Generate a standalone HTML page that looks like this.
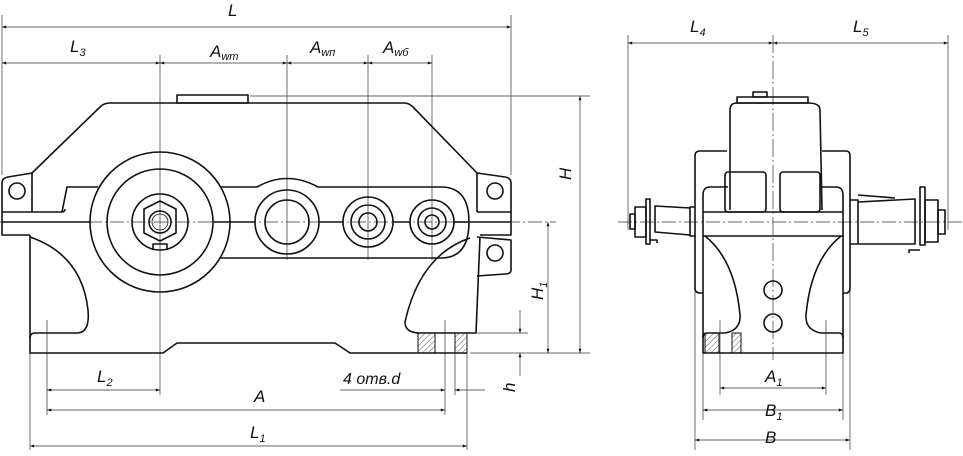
<!DOCTYPE html>
<html><head><meta charset="utf-8"><style>
body{margin:0;background:#fff}
svg{display:block}
text{font-family:"Liberation Sans",sans-serif;font-style:italic;font-size:17px;fill:#111}
.s{font-size:11px}
</style></head><body>
<svg width="963" height="456" viewBox="0 0 963 456" xmlns="http://www.w3.org/2000/svg">
<defs>
<marker id="a" viewBox="0 0 10 10" refX="10" refY="5" markerWidth="9" markerHeight="6" orient="auto-start-reverse"><path d="M0,1.5L10,5L0,8.5z" fill="#111"/></marker>
<pattern id="h" width="4" height="4" patternUnits="userSpaceOnUse" patternTransform="rotate(45)"><line x1="0" y1="0" x2="0" y2="4" stroke="#333" stroke-width="0.8"/></pattern>
</defs>
<g stroke="#333" stroke-width="0.7" fill="none">
<line x1="2" y1="15" x2="2" y2="175"/><line x1="511" y1="15" x2="511" y2="175"/>
<line x1="160" y1="55" x2="160" y2="395"/><line x1="287" y1="55" x2="287" y2="260"/>
<line x1="368" y1="55" x2="368" y2="260"/><line x1="432" y1="55" x2="432" y2="260"/>
<line x1="0" y1="222" x2="556" y2="222" stroke-dasharray="14 3 2 3"/>
<line x1="250" y1="96" x2="590" y2="96"/><line x1="470" y1="333" x2="528" y2="333"/><line x1="470" y1="353" x2="590" y2="353"/>
<line x1="30" y1="353" x2="30" y2="450"/><line x1="467" y1="353" x2="467" y2="450"/>
<line x1="47" y1="320" x2="47" y2="415"/><line x1="445" y1="320" x2="445" y2="415"/><line x1="455" y1="353" x2="455" y2="395"/>
<line x1="2" y1="27" x2="511" y2="27" marker-start="url(#a)" marker-end="url(#a)"/>
<line x1="2" y1="63" x2="160" y2="63" marker-start="url(#a)" marker-end="url(#a)"/>
<line x1="160" y1="63" x2="287" y2="63" marker-start="url(#a)" marker-end="url(#a)"/>
<line x1="287" y1="63" x2="368" y2="63" marker-start="url(#a)" marker-end="url(#a)"/>
<line x1="368" y1="63" x2="432" y2="63" marker-start="url(#a)" marker-end="url(#a)"/>
<line x1="580" y1="96" x2="580" y2="353" marker-start="url(#a)" marker-end="url(#a)"/>
<line x1="548" y1="222" x2="548" y2="353" marker-start="url(#a)" marker-end="url(#a)"/>
<line x1="520" y1="310" x2="520" y2="333" marker-end="url(#a)"/><line x1="520" y1="376" x2="520" y2="353" marker-end="url(#a)"/>
<line x1="47" y1="390" x2="160" y2="390" marker-start="url(#a)" marker-end="url(#a)"/>
<line x1="47" y1="410" x2="445" y2="410" marker-start="url(#a)" marker-end="url(#a)"/>
<line x1="30" y1="446" x2="467" y2="446" marker-start="url(#a)" marker-end="url(#a)"/>
<line x1="340" y1="390" x2="445" y2="390" marker-end="url(#a)"/><line x1="485" y1="390" x2="455" y2="390" marker-end="url(#a)"/>
<line x1="628" y1="35" x2="628" y2="230"/><line x1="948" y1="35" x2="948" y2="230"/>
<line x1="773" y1="35" x2="773" y2="360" stroke-dasharray="18 3 2 3"/>
<line x1="618" y1="222" x2="963" y2="222" stroke-dasharray="14 3 2 3"/>
<line x1="695" y1="290" x2="695" y2="450"/><line x1="850" y1="290" x2="850" y2="450"/>
<line x1="703" y1="353" x2="703" y2="420"/><line x1="843" y1="353" x2="843" y2="420"/>
<line x1="720" y1="320" x2="720" y2="395"/><line x1="826" y1="320" x2="826" y2="395"/>
<line x1="628" y1="43" x2="773" y2="43" marker-start="url(#a)" marker-end="url(#a)"/>
<line x1="773" y1="43" x2="948" y2="43" marker-start="url(#a)" marker-end="url(#a)"/>
<line x1="720" y1="388" x2="826" y2="388" marker-start="url(#a)" marker-end="url(#a)"/>
<line x1="703" y1="410" x2="843" y2="410" marker-start="url(#a)" marker-end="url(#a)"/>
<line x1="695" y1="440" x2="850" y2="440" marker-start="url(#a)" marker-end="url(#a)"/>
</g>
<g stroke="#111" stroke-width="1.6" fill="none" stroke-linejoin="round">
<path d="M32,173 L100,107 Q104,103 110,103 L404,103 Q409,103 413,107 L477,173"/>
<rect x="177" y="95" width="71" height="8"/>
<path d="M32,173 L32,212 M2,212 L2,183 Q2,178 8,177 L32,173"/>
<path d="M477,173 L477,212 M511,212 L511,183 Q511,178 505,177 L477,173"/>
<circle cx="17" cy="191" r="8"/><circle cx="495" cy="191" r="8"/>
<path d="M2,212 L2,235 L30,235 M2,212 L62,212 Q65,212 65,209 M62,212 L67,187 L98,187"/>
<path d="M477,212 L511,212 L511,235 L480,235"/>
<line x1="2" y1="222" x2="90" y2="222"/><line x1="470" y1="222" x2="511" y2="222"/>
<line x1="213" y1="222" x2="255" y2="222"/><line x1="319" y1="222" x2="343" y2="222"/>
<line x1="393" y1="222" x2="410" y2="222"/><line x1="454" y1="222" x2="469" y2="222"/>
<circle cx="160" cy="222" r="70"/><circle cx="160" cy="222" r="53"/><circle cx="160" cy="222" r="28"/>
<polygon points="160,201 176,209 176,233 160,241 144,233 144,209"/><circle cx="160" cy="222" r="11"/><circle cx="160" cy="222" r="8" stroke-width="0.8"/>
<path d="M153,250 L153,244 L167,244 L167,250"/>
<path d="M220,187 L257,187 Q287,170 318,187 L441,187 Q469,187 469,222 Q469,258 441,258 L220,258"/>
<circle cx="287" cy="222" r="32"/><circle cx="287" cy="222" r="22"/>
<circle cx="368" cy="222" r="25"/><circle cx="368" cy="222" r="17"/><circle cx="368" cy="222" r="9"/>
<circle cx="432" cy="222" r="22"/><circle cx="432" cy="222" r="14"/><circle cx="432" cy="222" r="7"/>
<path d="M30,235 L30,353 L163,353 L177,343 L335,343 L350,353 L467,353"/>
<path d="M30,237 Q82,255 88,310 Q90,332 78,333 L35,333 Q30,333 30,338"/>
<path d="M480,237 L476,333 M470,238 Q420,255 405,322 Q405,333 420,333 L476,333"/>
<path d="M477,237 L511,240 L511,270 Q511,274 505,274 L477,276"/>
<circle cx="495" cy="253" r="8"/>
<rect x="418" y="333" width="17" height="20" fill="url(#h)" stroke-width="1"/>
<rect x="455" y="333" width="12" height="20" fill="url(#h)" stroke-width="1"/>
<rect x="753" y="92" width="14" height="5"/>
<rect x="737" y="97" width="71" height="6"/>
<path d="M730,210 L730,110 Q730,103 737,103 L808,103 Q820,103 820,110 L822,210"/>
<rect x="725" y="172" width="41" height="40" rx="3"/><rect x="780" y="172" width="40" height="40" rx="3"/>
<path d="M703,212 L703,195 Q703,187 710,187 L728,187 M820,187 L836,187 Q843,187 843,195 L843,212"/>
<path d="M727,151 L700,151 Q695,151 695,156 L695,288 Q695,293 700,293 L703,293"/>
<path d="M822,151 L846,151 Q850,151 850,156 L850,288 Q850,293 846,293 L843,293"/>
<rect x="703" y="212" width="140" height="24"/>
<path d="M703,236 L703,353 L843,353 L843,236"/>
<path d="M705,236 Q735,260 740,315 Q741,330 725,333 L707,333 Q703,333 703,338"/>
<path d="M841,236 Q811,260 806,315 Q805,330 821,333 L839,333 Q843,333 843,338"/>
<circle cx="773" cy="290" r="9"/><circle cx="773" cy="323" r="9"/>
<rect x="705" y="333" width="14" height="20" fill="url(#h)" stroke-width="1"/>
<rect x="732" y="333" width="9" height="20" fill="url(#h)" stroke-width="1"/>
<path d="M695,207 L690,207 L690,236 L695,236 M690,208 L655,206 L655,232 L690,235"/>
<rect x="646" y="199" width="4" height="45"/><path d="M650,240 L657,240 L657,243"/>
<rect x="635" y="207" width="11" height="30"/><rect x="630" y="214" width="5" height="15"/>
<path d="M850,200 L858,200 L858,244 L850,244 M858,202 L915,199 L915,244 L858,244 M858,195 L895,198"/>
<rect x="920" y="187" width="5" height="58"/><path d="M920,250 L909,250 L909,253"/>
<rect x="925" y="200" width="13" height="42"/><rect x="938" y="210" width="7" height="24"/>
</g>
<text x="228" y="16">L</text>
<text x="70" y="52">L<tspan class="s" dy="4">3</tspan></text>
<text x="210" y="57">A<tspan class="s" dy="3">wт</tspan></text>
<text x="310" y="53">A<tspan class="s" dy="3">wп</tspan></text>
<text x="383" y="53">A<tspan class="s" dy="3">wб</tspan></text>
<text transform="translate(571,180) rotate(-90)">H</text>
<text transform="translate(543,300) rotate(-90)">H<tspan class="s" dy="4">1</tspan></text>
<text transform="translate(515,392) rotate(-90)">h</text>
<text x="97" y="382">L<tspan class="s" dy="4">2</tspan></text>
<text x="254" y="402">A</text>
<text x="250" y="438">L<tspan class="s" dy="4">1</tspan></text>
<text x="343" y="384" style="font-size:16px">4 отв.d</text>
<text x="690" y="32">L<tspan class="s" dy="4">4</tspan></text>
<text x="853" y="32">L<tspan class="s" dy="4">5</tspan></text>
<text x="765" y="382">A<tspan class="s" dy="4">1</tspan></text>
<text x="765" y="416">B<tspan class="s" dy="4">1</tspan></text>
<text x="765" y="443">B</text>
</svg>
</body></html>
